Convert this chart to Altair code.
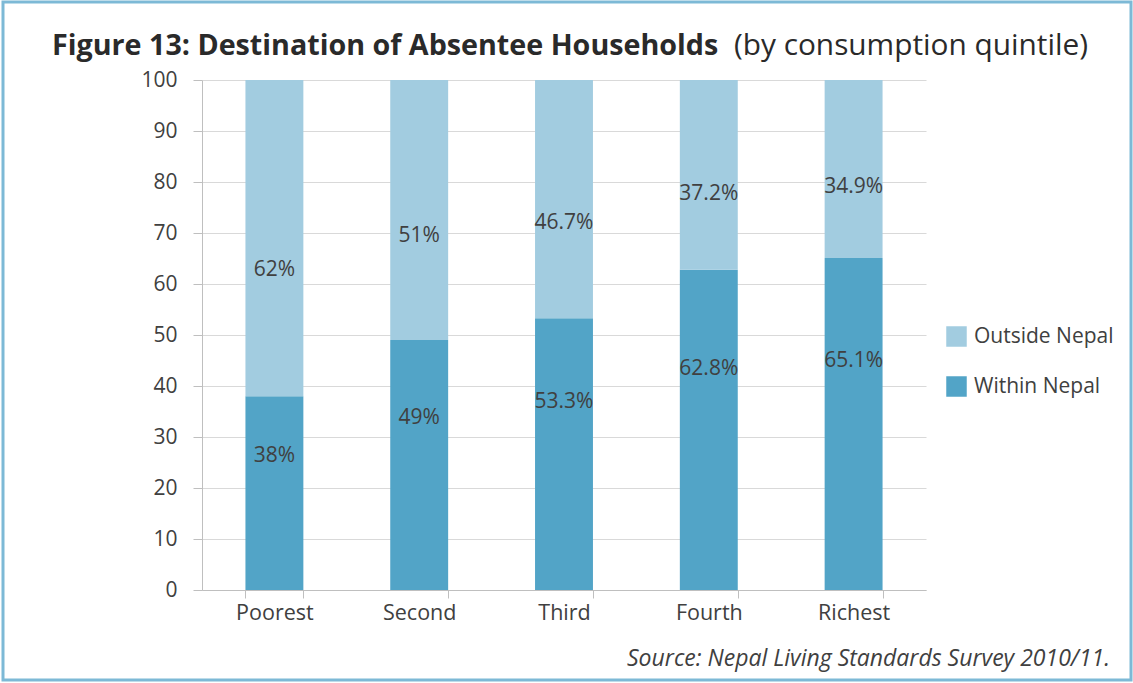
import altair as alt
import pandas as pd

categories = ["Poorest", "Second", "Third", "Fourth", "Richest"]
within_nepal = [38, 49, 53.3, 62.8, 65.1]
outside_nepal = [62, 51, 46.7, 37.2, 34.9]
series_names = ["Outside Nepal", "Within Nepal"]
series_colors = ["#a2cce0", "#52a4c7"]
y_ticks = list(range(0, 101, 10))

rows = []
for i, c in enumerate(categories):
    rows.append({"cat": c, "series": "Within Nepal", "value": within_nepal[i], "ord": 0,
                 "lab_pos": within_nepal[i] * 0.69})
    rows.append({"cat": c, "series": "Outside Nepal", "value": outside_nepal[i], "ord": 1,
                 "lab_pos": within_nepal[i] + outside_nepal[i] * 0.4})
df = pd.DataFrame(rows)

FONT = "Open Sans"
TXT = "#404040"

x_enc = alt.X("cat:N", sort=categories, title=None,
              scale=alt.Scale(paddingInner=0.6, paddingOuter=0.3),
              axis=alt.Axis(labelAngle=0, labelFontSize=21.5, labelColor=TXT, labelFont=FONT,
                            tickBand="extent", tickSize=8, tickColor="#bfbfbf",
                            domainColor="#bfbfbf", labelPadding=4, grid=False))

bars = alt.Chart(df).mark_bar().encode(
    x=x_enc,
    y=alt.Y("sum(value):Q", stack="zero", title=None,
            scale=alt.Scale(domain=[0, 100], nice=False),
            axis=alt.Axis(values=y_ticks, labelFontSize=21, labelColor=TXT, labelFont=FONT,
                          tickSize=9, tickColor="#bfbfbf", domainColor="#bfbfbf",
                          gridColor="#d9d9d9", labelPadding=16)),
    color=alt.Color("series:N", scale=alt.Scale(domain=series_names, range=series_colors),
                    legend=alt.Legend(title=None, orient="none", legendX=744, legendY=246,
                                      symbolType="square", symbolSize=420, symbolStrokeWidth=0,
                                      labelFontSize=21, labelColor=TXT, labelFont=FONT,
                                      rowPadding=28, labelOffset=7)),
    order=alt.Order("ord:Q"),
)

labels = alt.Chart(df).transform_calculate(
    txt="format(datum.value, '.1~f') + '%'"
).mark_text(fontSize=21, color=TXT, font=FONT).encode(
    x=alt.X("cat:N", sort=categories),
    y=alt.Y("lab_pos:Q"),
    text="txt:N",
)

one = pd.DataFrame({"a": [0]})
title1 = alt.Chart(one).mark_text(text="Figure 13: Destination of Absentee Households",
                                  font=FONT, fontSize=28.7, fontWeight="bold", color="#2a2a2a",
                                  align="left", baseline="alphabetic").encode(
    x=alt.value(-150), y=alt.value(-25))
title2 = alt.Chart(one).mark_text(text="(by consumption quintile)",
                                  font=FONT, fontSize=29.8, color="#2a2a2a",
                                  align="right", baseline="alphabetic").encode(
    x=alt.value(886), y=alt.value(-25))
source = alt.Chart(one).mark_text(text="Source: Nepal Living Standards Survey 2010/11.",
                                  font=FONT, fontSize=23, fontStyle="italic", color=TXT,
                                  align="right", baseline="alphabetic").encode(
    x=alt.value(908), y=alt.value(586))
frame = alt.Chart(one).mark_rect(filled=False, stroke="#7db9d6", strokeWidth=3).encode(
    x=alt.value(-199), x2=alt.value(929), y=alt.value(-78), y2=alt.value(600))

chart = alt.layer(bars, labels, title1, title2, source, frame).properties(
    width=724, height=510,
    padding={"left": 202, "top": 80, "right": 207, "bottom": 93},
    autosize=alt.AutoSizeParams(type="none"),
    background="white",
).configure_view(stroke=None)

chart.save("out.html", embed_options={"renderer": "svg", "actions": False})
